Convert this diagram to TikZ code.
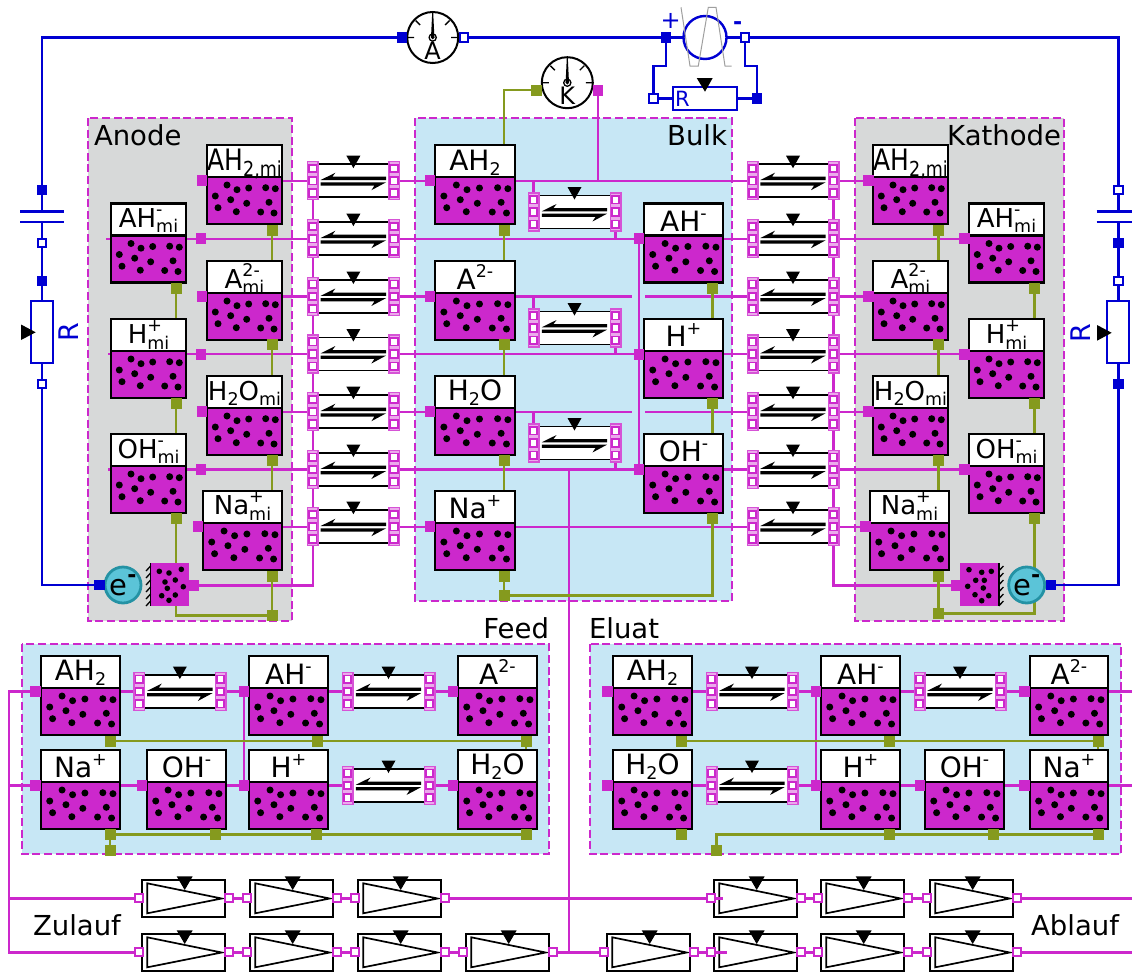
\documentclass[tikz,border=0pt]{standalone}
\usepackage{fontspec}
\setmainfont{DejaVu Sans}
\definecolor{mag}{HTML}{CC28CC}
\definecolor{oliv}{HTML}{859A1E}
\definecolor{blu}{HTML}{0000D2}
\definecolor{grayreg}{HTML}{D7D9D9}
\definecolor{bluereg}{HTML}{C7E7F5}
\definecolor{tealfill}{HTML}{5BC4D8}
\definecolor{tealedge}{HTML}{2492A4}
\pgfdeclarelayer{bgl}
\pgfdeclarelayer{wires}
\pgfsetlayers{bgl,wires,main}
\tikzset{
  mwire/.style={draw=mag,line width=2.3pt},
  owire/.style={draw=oliv,line width=2.7pt},
  bwire/.style={draw=blu,line width=2.5pt},
  region/.style={draw=mag,line width=2.8pt,dash pattern=on 8pt off 3.6pt},
  volframe/.style={draw=black,line width=2.4pt,inner sep=0pt,outer sep=0pt},
  portm/.style={fill=mag,inner sep=0pt,outer sep=0pt,minimum width=10.5pt,minimum height=11pt},
  porto/.style={fill=oliv,inner sep=0pt,outer sep=0pt,minimum width=11pt,minimum height=11pt},
  portb/.style={fill=blu,inner sep=0pt,outer sep=0pt,minimum width=10.5pt,minimum height=10.5pt},
  portw/.style={draw=blu,fill=white,line width=2pt,inner sep=0pt,outer sep=0pt,minimum width=8.5pt,minimum height=8.5pt},
  portp/.style={draw=mag,fill=white,line width=1.7pt,inner sep=0pt,outer sep=0pt,minimum width=7.5pt,minimum height=7.5pt},
  stripbox/.style={draw=mag!80,fill=mag!40,line width=1.5pt,inner sep=0pt,outer sep=0pt,minimum width=10.5pt,minimum height=38pt},
  reactbox/.style={draw=black,fill=white,line width=1.5pt,inner sep=0pt,outer sep=0pt,minimum height=33pt},
  pumpbox/.style={draw=black,fill=white,line width=2.2pt,inner sep=0pt,outer sep=0pt,minimum width=83pt,minimum height=37pt,anchor=north west},
  lblw/.style={anchor=base west,inner sep=0pt,outer sep=0pt,font=\fontsize{27.5}{27.5}\selectfont},
  lble/.style={anchor=base east,inner sep=0pt,outer sep=0pt,font=\fontsize{27.5}{27.5}\selectfont}
}
% label pieces
\newcommand{\tbase}{\fontsize{26}{26}\selectfont}
\newcommand{\lrg}{\fontsize{28}{28}\selectfont}
\newcommand{\tsmall}{\fontsize{17.5}{17.5}\selectfont}
\newcommand{\sbs}[1]{\raisebox{-5.5pt}{\tsmall #1}}
\newcommand{\sps}[1]{\raisebox{12pt}{\tsmall #1}}
\newcommand{\both}[2]{\rlap{\sps{#1}}\sbs{#2}}
% volume: name x y w baseline label
\newcommand{\vol}[6]{%
 \begin{scope}[shift={(#2,#3)}]
  \fill[mag] (0,32) rectangle (#4,79);
  \fill[white] (0,0) rectangle (#4,32);
  \foreach \a/\b in {20/40,30/44.7,41.7/43,58.7/42.7,68.3/43.7,8.3/51,23.7/54.7,39.7/58.3,62/57.3,11/62.7,29.3/66.7,53.7/67,67/68}
   \fill[black] ({\a*#4/75},\b) circle[radius=3.5pt];
  \draw[black,line width=2.4pt] (0,32) -- (#4,32);
  \node[volframe,minimum width=#4,minimum height=79pt,anchor=north west] (#1) at (0,0) {};
  \node[anchor=base,inner sep=0pt] (#1-t) at ({#4/2},#5) {\tbase #6};
 \end{scope}}
% reaction: name xl xr cy
\newcommand{\react}[4]{%
 \pgfmathsetmacro\rxmid{(#2+#3)/2}
 \node[reactbox,minimum width={#3-#2}] (#1) at (\rxmid,#4) {};
 \begin{scope}[shift={(\rxmid,#4)}]
  \fill[black] (-7,-25) -- (7,-25) -- (0,-12.5) -- cycle;
  \fill[black] (-32.7,-0.7) -- (-18,-8) -- (-21,-4) -- (32.7,-4) -- (32.7,-0.7) -- cycle;
  \fill[black] (32.7,1.6) -- (18,9.5) -- (21,4.9) -- (-32.7,4.9) -- (-32.7,1.6) -- cycle;
 \end{scope}
 \node[stripbox] (#1l) at (#2,#4) {};
 \node[stripbox] (#1r) at (#3,#4) {};
 \foreach \s/\d in {a/-12.3,b/0,c/12.3}{
  \node[portp] (#1l\s) at (#2,#4+\d) {};
  \node[portp] (#1r\s) at (#3,#4+\d) {};
 }}
% pump: name x y
\newcommand{\pump}[3]{%
 \node[pumpbox] (#1) at (#2,#3) {};
 \begin{scope}[shift={(#2,#3)}]
  \draw[black,line width=1.7pt,line join=miter] (5.3,3.3) -- (5.3,33.3) -- (79.7,18.5) -- cycle;
  \fill[black] (34.7,-3.7) -- (50.7,-3.7) -- (42.7,10) -- cycle;
  \node[portp,line width=2pt,minimum width=8pt,minimum height=8pt] (#1i) at (-3,18.4) {};
  \node[portp,line width=2pt,minimum width=8pt,minimum height=8pt] (#1o) at (86.5,18.4) {};
 \end{scope}}
% meter: name cx cy letter
\newcommand{\meter}[4]{%
 \node[circle,draw=black,fill=white,line width=2pt,minimum size=51pt,inner sep=0pt,outer sep=0pt] (#1) at (#2,#3) {};
 \begin{scope}[shift={(#2,#3)}]
  \draw[black,line width=1.4pt] (-25,0) -- (-18.5,0) (25,0) -- (18.5,0) (-17,-17) -- (-12.5,-12.5) (17,-17) -- (12.5,-12.5);
  \fill[black] (-1.7,0) -- (1.7,0) -- (0.5,-25) -- (-0.5,-25) -- cycle;
  \draw[black,line width=1.3pt] (0,0) circle[radius=3.6pt];
  \fill[black] (0,0) circle[radius=1.8pt];
  \node[anchor=base,inner sep=0pt,font=\fontsize{24}{24}\selectfont] (#1-t) at (0,22) {#4};
 \end{scope}}
\newcommand{\magp}[3]{\node[portm] (#1) at (#2,#3) {};}
\newcommand{\olp}[3]{\node[porto] (#1) at (#2,#3) {};}
\begin{document}
\begin{tikzpicture}[x=1pt,y=-1pt]
\useasboundingbox (0,0) rectangle (1132,972);
\begin{pgfonlayer}{bgl}
 \fill[white] (0,0) rectangle (1132,972);
 \path[fill=grayreg,region] (88,118) rectangle (292,621);
 \path[fill=bluereg,region] (415,118) rectangle (732,601);
 \path[fill=grayreg,region] (855,118) rectangle (1064,621);
 \path[fill=bluereg,region] (22,644) rectangle (549,854);
 \path[fill=bluereg,region] (590,644) rectangle (1121,854);
\end{pgfonlayer}
% region titles
\node[lblw] (tan) at (94,145) {Anode};
\node[lble] (tbu) at (727,145) {Bulk};
\node[lble] (tka) at (1061,145) {Kathode};
\node[lble] (tfe) at (549,638.5) {Feed};
\node[lblw] (tel) at (589,638.5) {Eluat};
\node[lblw] (tzu) at (33,935.7) {Zulauf};
\node[lble] (tab) at (1119,935.7) {Ablauf};
% Anode volumes
\vol{a1}{207}{145}{75}{25}{\scalebox{1}[1.18]{\fontsize{25}{25}\selectfont AH\sbs{2,mi}}}
\vol{a2}{111}{203.5}{75}{23.5}{AH\both{-}{mi}}
\vol{a3}{207}{261}{75}{27}{A\both{2-}{mi}}
\vol{a4}{111}{319}{75}{24.5}{H\both{+}{mi}}
\vol{a5}{207}{376}{75}{24}{H\sbs{2}O\sbs{mi}}
\vol{a6}{111}{434}{75}{24}{OH\both{-}{mi}}
\vol{a7}{203}{491}{79}{23.5}{Na\both{+}{mi}}
% Bulk volumes
\vol{b1}{435}{145}{80}{25}{\lrg AH\sbs{2}}
\vol{b2}{644}{203.5}{79}{28}{\lrg AH\sps{-}}
\vol{b3}{435}{261}{80}{28}{\lrg A\sps{2-}}
\vol{b4}{644}{319}{79}{27}{\lrg H\sps{+}}
\vol{b5}{435}{376}{80}{24}{\lrg H\sbs{2}O}
\vol{b6}{644}{434}{79}{27.5}{\lrg OH\sps{-}}
\vol{b7}{435}{491}{80}{27}{\lrg Na\sps{+}}
% Kathode volumes
\vol{k1}{873}{145}{75}{25}{\scalebox{1}[1.18]{\fontsize{25}{25}\selectfont AH\sbs{2,mi}}}
\vol{k2}{969}{203.5}{75}{23.5}{AH\both{-}{mi}}
\vol{k3}{873}{261}{75}{27}{A\both{2-}{mi}}
\vol{k4}{969}{319}{75}{24.5}{H\both{+}{mi}}
\vol{k5}{873}{376}{75}{24}{H\sbs{2}O\sbs{mi}}
\vol{k6}{969}{434}{75}{24}{OH\both{-}{mi}}
\vol{k7}{870}{491}{79}{23.5}{Na\both{+}{mi}}
% Feed volumes
\vol{f1}{41}{656}{79}{24}{\lrg AH\sbs{2}}
\vol{f2}{249}{656}{79}{28}{\lrg AH\sps{-}}
\vol{f3}{458}{656}{79}{28}{\lrg A\sps{2-}}
\vol{f4}{41}{750}{79}{27}{\lrg Na\sps{+}}
\vol{f5}{147}{750}{79}{27}{\lrg OH\sps{-}}
\vol{f6}{249}{750}{79}{27}{\lrg H\sps{+}}
\vol{f7}{458}{750}{79}{24}{\lrg H\sbs{2}O}
% Eluat volumes
\vol{e1}{613}{656}{79}{24}{\lrg AH\sbs{2}}
\vol{e2}{821}{656}{79}{28}{\lrg AH\sps{-}}
\vol{e3}{1030}{656}{78}{28}{\lrg A\sps{2-}}
\vol{e4}{613}{750}{79}{24}{\lrg H\sbs{2}O}
\vol{e5}{821}{750}{79}{27}{\lrg H\sps{+}}
\vol{e6}{925}{750}{79}{27}{\lrg OH\sps{-}}
\vol{e7}{1030}{750}{78}{27}{\lrg Na\sps{+}}
% reactions
\foreach \n/\y in {1/180.7,2/238.7,3/296.5,4/354,5/411.7,6/469.5,7/526.7}{
 \react{ra\n}{312.8}{394}{\y}
 \react{rk\n}{752.5}{833.5}{\y}
}
\react{rb1}{533.5}{615.5}{212}
\react{rb2}{533.5}{615.5}{328}
\react{rb3}{533.5}{615.5}{443}
\react{rf1}{139.2}{220.5}{691.5}
\react{rf2}{347.5}{429.5}{691.5}
\react{rf3}{347.5}{429.5}{785.5}
\react{re1}{711.5}{792.5}{691.5}
\react{re2}{711.5}{792.5}{785.5}
\react{re3}{919.5}{1000.5}{691.5}
% pumps
\foreach \n/\x in {a/142,b/250,c/358}{\pump{pt\n}{\x}{880}}
\foreach \n/\x in {a/142,b/250,c/358,d/466}{\pump{pu\n}{\x}{934}}
\foreach \n/\x in {a/714,b/821,c/930}{\pump{qt\n}{\x}{880}}
\foreach \n/\x in {a/607,b/714,c/821,d/930}{\pump{qu\n}{\x}{934}}
\draw[mwire] (qtai.east) -- (722.7,898.4);
\draw[mwire] (qubi.east) -- (727,952.4);
% magenta ports
\magp{ap1}{202}{180.7}\magp{ap2}{201}{238.7}\magp{ap3}{202}{296.5}\magp{ap4}{201}{354}\magp{ap5}{202}{411.7}\magp{ap6}{201}{469.5}\magp{ap7}{198}{526.7}
\magp{bp1}{430}{180.7}\magp{bp2}{639}{238.7}\magp{bp3}{430}{296.5}\magp{bp4}{639}{354}\magp{bp5}{430}{411.7}\magp{bp6}{639}{469.5}\magp{bp7}{430}{526.7}
\magp{kp1}{868.3}{180.7}\magp{kp2}{964.3}{238.7}\magp{kp3}{868.3}{296.5}\magp{kp4}{964.3}{354}\magp{kp5}{868.3}{411.7}\magp{kp6}{964.3}{469.5}\magp{kp7}{865.3}{526.7}
\magp{fp1}{35.7}{691.5}\magp{fp2}{35.7}{785.5}\magp{fp3}{142}{785.5}\magp{fp4}{244}{691.5}\magp{fp5}{244}{785.5}\magp{fp6}{453}{691.5}\magp{fp7}{453}{785.5}
\magp{ep1}{607.7}{691.5}\magp{ep2}{607.7}{785.5}\magp{ep3}{816}{691.5}\magp{ep4}{816}{785.5}\magp{ep5}{1024.7}{691.5}\magp{ep6}{920}{785.5}\magp{ep7}{1024.7}{785.5}
% olive ports
\foreach \n/\y in {1/230,3/344.5,5/460,7/576}{\olp{ao\n}{272}{\y}\olp{bo\n}{504}{\y}\olp{ko\n}{938.7}{\y}}
\foreach \n/\y in {2/288,4/403.5,6/518.5}{\olp{ao\n}{176}{\y}\olp{bo\n}{712.5}{\y}\olp{ko\n}{1034.3}{\y}}
\olp{ao8}{272}{615.5}\olp{bo8}{504}{595.5}\olp{ko8}{938.7}{613.5}
\olp{fo1}{110}{741}\olp{fo2}{317.5}{741}\olp{fo3}{526}{741}\olp{fo4}{110}{834.3}\olp{fo5}{215.5}{834.3}\olp{fo6}{316.5}{834.3}\olp{fo7}{526}{834.3}\olp{fo8}{110}{850}
\olp{eo1}{681.5}{741}\olp{eo2}{889.5}{741}\olp{eo3}{1098}{741}\olp{eo4}{681.5}{834.3}\olp{eo5}{889.5}{834.3}\olp{eo6}{993.7}{834.3}\olp{eo7}{1098}{834.3}\olp{eo8}{716.5}{850}
% electrodes
\node[fill=mag,inner sep=0pt,minimum width=38pt,minimum height=43pt] (ael) at (170,584.5) {};
\node[fill=mag,inner sep=0pt,minimum width=38.5pt,minimum height=43pt] (kel) at (979.3,584.5) {};
\foreach \a/\b in {8.3/8.3,18/10,30.3/6.3,14/19,24.3/17,32.3/23.7,16.3/25.3,24.3/32,10.7/32.7,18/37.3}
 \fill[black] (151+\a,563+\b) circle[radius=2.8pt];
\foreach \a/\b in {9/6.7,21.7/9.3,31.3/8.3,15.7/17.3,24.3/17.3,7.7/23.3,23.3/25,15/31.7,28.7/32.7,21.7/37.7}
 \fill[black] (960+\a,563+\b) circle[radius=2.8pt];
\draw[black,line width=1.5pt] (150.6,563) -- (150.6,606);
\draw[black,line width=1.5pt] (998.8,563) -- (998.8,606);
\foreach \d in {0,7,14,21,28,35}{
 \draw[black,line width=1.3pt] (150.6,566+\d) -- (146,571+\d);
 \draw[black,line width=1.3pt] (998.8,571+\d) -- (1003.4,566+\d);
}
\magp{aem}{194}{585.5}\magp{kem}{955.8}{585.5}
% e- circles
\node[circle,draw=tealedge,fill=tealfill,line width=2.8pt,minimum size=36pt,inner sep=0pt,outer sep=0pt] (aec) at (123,585) {};
\node[circle,draw=tealedge,fill=tealfill,line width=2.8pt,minimum size=36pt,inner sep=0pt,outer sep=0pt] (kec) at (1026.7,585) {};
\node[anchor=base,inner sep=0pt,font=\fontsize{29}{29}\selectfont] (aet) at (123,595) {e\raisebox{13pt}{\fontsize{22}{22}\selectfont\bfseries -}};
\node[anchor=base,inner sep=0pt,font=\fontsize{29}{29}\selectfont] (ket) at (1026.7,595) {e\raisebox{13pt}{\fontsize{22}{22}\selectfont\bfseries -}};
\node[portb] (aeb) at (99.5,585) {};
\node[portb] (keb) at (1051,585) {};
% meters
\meter{am}{432.7}{37.5}{A}
\meter{km}{567.3}{82.7}{K}
\node[portb] (amL) at (402,37.5) {};
\node[portw] (amR) at (464,37.5) {};
\olp{kmo}{536}{90}
\magp{kmm}{598}{90}
% voltage source
\node[circle,draw=blu,fill=white,line width=2.4pt,minimum size=43pt,inner sep=0pt,outer sep=0pt] (vs) at (705,37.5) {};
\draw[gray!75,line width=1pt] (681,7.3) -- (690,66) -- (698.3,66) -- (708.3,7.3) -- (716,7.3) -- (725,66) -- (731.7,66);
\node[portb] (vsL) at (666,37.5) {};
\node[portw] (vsR) at (745,37.5) {};
\node[anchor=center,text=blu,inner sep=0pt,font=\fontsize{24}{24}\selectfont] (vsp) at (670.7,20.5) {+};
\node[anchor=center,text=blu,inner sep=0pt,font=\fontsize{22}{22}\selectfont\bfseries] (vsm) at (737.7,26) {-};
% parallel resistor
\node[draw=blu,fill=white,line width=2.3pt,inner sep=0pt,minimum width=63.5pt,minimum height=23pt] (pr) at (705,98.5) {};
\fill[black] (696.7,78) -- (712.7,78) -- (705,91.7) -- cycle;
\node[text=blu,inner sep=0pt,font=\fontsize{21}{21}\selectfont] (prt) at (682.5,99) {R};
\node[portw] (wp) at (653.3,98.5) {};
\node[portb] (wq) at (757,98.5) {};
% left branch
\node[portb] (lp1) at (42,190) {};
\node[portw] (lp2) at (42,243) {};
\node[portb] (lp3) at (42,281) {};
\node[portw] (lp4) at (42,384) {};
\node[draw=blu,fill=white,line width=2.3pt,inner sep=0pt,minimum width=22.6pt,minimum height=62pt] (lr) at (42,332) {};
\fill[black] (21,324.5) -- (21,340) -- (35.7,332.3) -- cycle;
\node[text=blu,inner sep=0pt,rotate=90,font=\fontsize{27}{27}\selectfont] (lrt) at (69,332) {R};
\draw[blu,line width=2.4pt] (20,211.3) -- (64,211.3);
\draw[blu,line width=2.4pt] (20,221.7) -- (64,221.7);
% right branch
\node[portw] (rp1) at (1118.3,190) {};
\node[portb] (rp2) at (1118.3,243) {};
\node[portw] (rp3) at (1118.3,281) {};
\node[portb] (rp4) at (1118.3,384) {};
\node[draw=blu,fill=white,line width=2.3pt,inner sep=0pt,minimum width=22.6pt,minimum height=62pt] (rr) at (1118,332) {};
\fill[black] (1097,325) -- (1097,340.7) -- (1111.7,332.8) -- cycle;
\node[text=blu,inner sep=0pt,rotate=90,font=\fontsize{27}{27}\selectfont] (rrt) at (1081,333) {R};
\draw[blu,line width=2.4pt] (1096.7,211.3) -- (1132,211.3);
\draw[blu,line width=2.4pt] (1096.7,221.7) -- (1132,221.7);
% free wire ends
\coordinate (as2) at (106,238.7);
\coordinate (as4) at (108,354);
\coordinate (as6) at (108,469.5);
\coordinate (g3a) at (632,296.5);
\coordinate (g3b) at (645,296.5);
\coordinate (g5a) at (632,411.7);
\coordinate (g5b) at (645,411.7);
\coordinate (j6) at (569.3,469.5);
\coordinate (j7) at (569.3,952.4);
\coordinate (bus1) at (8.7,691.5);
\coordinate (bus2) at (8.7,952.4);
\coordinate (endt) at (1132,898.4);
\coordinate (endu) at (1132,952.4);
\coordinate (ende1) at (1132,691.5);
\coordinate (ende2) at (1132,785.5);
\coordinate (lc1) at (42,211.3);
\coordinate (lc2) at (42,221.7);
\coordinate (rc1) at (1118.3,211.3);
\coordinate (rc2) at (1118.3,221.7);
\coordinate (corner) at (1118.3,37.5);
% wires
\begin{pgfonlayer}{wires}
 \foreach \a/\b in {ap1/ra1l,as2/ra2l,ap3/ra3l,as4/ra4l,ap5/ra5l,as6/ra6l,ap7/ra7l,
   ra1l/ra2l,ra2l/ra3l,ra3l/ra4l,ra4l/ra5l,ra5l/ra6l,ra6l/ra7l,
   ra1r/bp1,bp1/rk1l,ra2r/bp2,bp2/rk2l,ra3r/bp3,bp3/g3a,g3b/rk3l,ra4r/bp4,bp4/rk4l,
   ra5r/bp5,bp5/g5a,g5b/rk5l,ra6r/bp6,bp6/rk6l,ra7r/bp7,bp7/rk7l,bp2/bp4,bp4/bp6,j6/j7,
   rk1r/kp1,rk2r/kp2,rk3r/kp3,rk4r/kp4,rk5r/kp5,rk6r/kp6,rk7r/kp7,
   rk1r/rk2r,rk2r/rk3r,rk3r/rk4r,rk4r/rk5r,rk5r/rk6r,rk6r/rk7r,
   fp1/rf1l,rf1r/fp4,fp4/rf2l,rf2r/fp6,fp2/fp3,fp3/fp5,fp5/rf3l,rf3r/fp7,fp4/fp5,
   ep1/re1l,re1r/ep3,ep3/re3l,re3r/ep5,ep5/ende1,ep2/re2l,re2r/ep4,ep3/ep4,ep4/ep6,ep6/ep7,ep7/ende2,
   ptao/ptbi,ptbo/ptci,ptco/qtai,puao/pubi,pubo/puci,puco/pudi,pudo/quai,
   quao/qubi,qubo/quci,quco/qudi,qtao/qtbi,qtbo/qtci,qtco/endt,qudo/endu}
  \draw[mwire] (\a.center) -- (\b.center);
 \draw[mwire] (ra7l.center) |- (aem.center);
 \draw[mwire] (rk7r.center) |- (kem.center);
 \draw[mwire] (kmm.center) -- (kmm.center |- bp1.center);
 \draw[mwire] (rb1l.center) -- (rb1l.center |- bp1.center);
 \draw[mwire] (rb1r.center) -- (rb1r.center |- bp2.center);
 \draw[mwire] (rb2l.center) -- (rb2l.center |- bp3.center);
 \draw[mwire] (rb2r.center) -- (rb2r.center |- bp4.center);
 \draw[mwire] (rb3l.center) -- (rb3l.center |- bp5.center);
 \draw[mwire] (rb3r.center) -- (rb3r.center |- bp6.center);
 \draw[mwire] (fp1.center) -- (bus1) -- (bus2) -- (puai.center);
 \draw[mwire] (fp2.center) -- (fp2.center -| bus1);
 \draw[mwire] (ptai.center) -- (ptai.center -| bus1);
 \foreach \a/\b in {ao1/ao3,ao3/ao5,ao5/ao7,ao7/ao8,ao2/ao4,ao4/ao6,
   bo1/bo3,bo3/bo5,bo5/bo7,bo7/bo8,bo2/bo4,bo4/bo6,
   ko1/ko3,ko3/ko5,ko5/ko7,ko7/ko8,ko2/ko4,ko4/ko6,
   fo1/fo3,fo4/fo7,fo4/fo8,fo3/fo7,eo1/eo3,eo3/eo7}
  \draw[owire] (\a.center) -- (\b.center);
 \draw[owire] (ao6.center) |- (ao8.center);
 \draw[owire] (bo6.center) |- (bo8.center);
 \draw[owire] (ko6.center) |- (ko8.center);
 \draw[owire] (bo1.center) |- (kmo.center);
 \draw[owire] (eo8.center) |- (eo7.center);
 \draw[bwire] (amL.center) -| (lp1.center);
 \draw[bwire] (lp1.center) -- (lc1);
 \draw[bwire] (lc2) -- (lp2.center) -- (lp3.center) -- (lp4.center);
 \draw[bwire] (lp4.center) |- (aeb.center);
 \draw[bwire] (amL.center) -- (amR.center);
 \draw[bwire] (amR.center) -- (vsL.center) -- (vsR.center) -- (corner) -- (rp1.center) -- (rc1);
 \draw[bwire] (rc2) -- (rp2.center) -- (rp3.center) -- (rp4.center);
 \draw[bwire] (rp4.center) |- (keb.center);
 \draw[bwire] (vsL.center) -- ++(0,28.5) -| (wp.center);
 \draw[bwire] (wp.center) -- (wq.center);
 \draw[bwire] (wq.center) -- ++(0,-32.5) -| (vsR.center);
\end{pgfonlayer}
\end{tikzpicture}
\end{document}
